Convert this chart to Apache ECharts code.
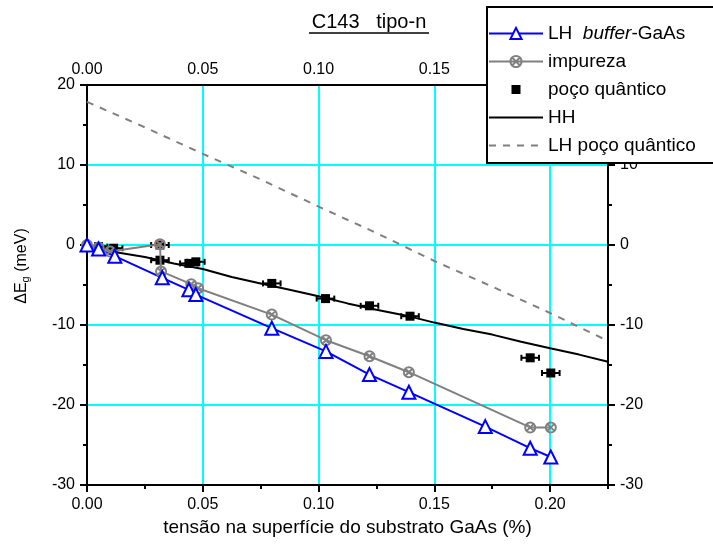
<!DOCTYPE html>
<html>
<head>
<meta charset="utf-8">
<script src="https://cdn.jsdelivr.net/npm/echarts@6/dist/echarts.min.js"></script>
<style>
html, body { margin: 0; padding: 0; background: #fff; }
#chart { width: 713px; height: 550px; }
</style>
</head>
<body>
<div id="chart"></div>
<script>
// C143 tipo-n : deslocamento do gap vs tensão

const FONT = '"Liberation Sans", Arial, sans-serif';

// LH buffer-GaAs (triângulos azuis)
const lhBuffer = [
    [0, 0], [0.005, -0.5], [0.012, -1.4], [0.0325, -4.1], [0.044, -5.6], [0.047, -6.2],
    [0.0798, -10.4], [0.1032, -13.3], [0.122, -16.2], [0.139, -18.4],
    [0.172, -22.7], [0.1914, -25.4], [0.2003, -26.5]
];

// impureza (círculos cinza com X)
const impureza = [
    [0, 0], [0.005, -0.3], [0.01, -0.8], [0.0315, 0.1], [0.032, -3.3], [0.045, -4.9], [0.048, -5.4],
    [0.0798, -8.7], [0.1032, -11.9], [0.122, -13.9], [0.139, -15.9],
    [0.1914, -22.8], [0.2003, -22.8]
];

// poço quântico (quadrados pretos, com barra de erro horizontal)
const poco = [
    [0.005, -0.2], [0.0115, -0.4], [0.0315, 0.0], [0.0315, -1.9], [0.044, -2.3], [0.047, -2.1],
    [0.0798, -4.8], [0.103, -6.7], [0.122, -7.6], [0.1395, -8.9],
    [0.1914, -14.1], [0.2003, -16.0]
];
const pocoErr = 0.0038;

// HH (linha preta contínua)
const hh = [
    [0, 0], [0.0125, -0.9], [0.025, -1.5], [0.0375, -2.3], [0.05, -3.0], [0.0625, -4.0],
    [0.075, -4.8], [0.0875, -5.6], [0.1, -6.4], [0.1125, -7.3], [0.125, -8.1],
    [0.1375, -8.8], [0.15, -9.7], [0.1625, -10.5], [0.175, -11.2], [0.1875, -12.1],
    [0.2, -12.9], [0.2125, -13.7], [0.225, -14.6]
];

// LH poço quântico (linha tracejada cinza)
const lhPoco = [
    [0, 17.9], [0.025, 14.7], [0.05, 11.4], [0.075, 8.2], [0.1, 4.8], [0.125, 1.5],
    [0.15, -2.0], [0.175, -5.2], [0.2, -8.5], [0.225, -12.0]
];

const xMin = 0, xMax = 0.225, xStep = 0.05;
const yMin = -30, yMax = 20, yStep = 10;

const axisLineStyle = { color: '#000', width: 2 };
const labelStyle = { color: '#000', fontSize: 16, fontFamily: FONT };

const xCircle = 'path://M10,0 A10,10 0 1,1 -10,0 A10,10 0 1,1 10,0 Z M-7,-7 L7,7 M-7,7 L7,-7';

const chart = echarts.init(document.getElementById('chart'));

const option = {
    animation: false,
    backgroundColor: '#fff',
    grid: { left: 87, right: 105, top: 85, bottom: 65 },
    legend: {
        orient: 'vertical',
        left: 487,
        top: 7,
        z: 6,
        itemWidth: 54,
        itemHeight: 14,
        itemGap: 9,
        padding: [17, 10, 13, 1],
        data: [
            'LH buffer-GaAs',
            'impureza',
            { name: 'poço quântico', icon: 'path://M0,0 M14,14 M2.5,2.5 h9 v9 h-9 z' },
            { name: 'HH', itemStyle: { opacity: 0 } },
            { name: 'LH poço quântico', itemStyle: { opacity: 0 } }
        ],
        formatter: function (name) {
            if (name === 'LH buffer-GaAs') return '{n|LH  }{i|buffer}{n|-GaAs}';
            return name;
        },
        textStyle: {
            color: '#000', fontSize: 19, fontFamily: FONT, lineHeight: 14,
            rich: {
                n: { color: '#000', fontSize: 19, fontFamily: FONT, lineHeight: 14 },
                i: { color: '#000', fontSize: 19, fontFamily: FONT, lineHeight: 14, fontStyle: 'italic' }
            }
        }
    },
    graphic: [
        {
            // caixa da legenda (passa da borda direita)
            type: 'rect', z: 5,
            shape: { x: 487, y: 7, width: 260, height: 156 },
            style: { fill: '#fff', stroke: '#000', lineWidth: 2 }
        },
        {
            type: 'text', x: 369, y: 12, z: 10,
            style: { text: 'C143   tipo-n', fill: '#000', font: '20px ' + FONT, align: 'center', verticalAlign: 'top' }
        },
        {
            type: 'line', z: 10,
            shape: { x1: 309, y1: 33, x2: 429, y2: 33 },
            style: { stroke: '#000', lineWidth: 1.5 }
        },
        {
            type: 'text', x: 22, y: 266, rotation: Math.PI / 2, z: 10,
            style: {
                text: '{a|ΔE}{s|g}{a| (meV)}',
                align: 'center', verticalAlign: 'middle',
                rich: {
                    a: { fill: '#000', fontSize: 16, fontFamily: FONT },
                    s: { fill: '#000', fontSize: 11, fontFamily: FONT, padding: [8, 0, 0, 0] }
                }
            }
        }
    ],
    xAxis: [
        {
            type: 'value', position: 'bottom', min: xMin, max: xMax, interval: xStep,
            name: 'tensão na superfície do substrato GaAs (%)',
            nameLocation: 'middle', nameGap: 29,
            nameTextStyle: { color: '#000', fontSize: 19, fontFamily: FONT },
            axisLine: { onZero: false, lineStyle: axisLineStyle },
            axisTick: { length: 7, lineStyle: axisLineStyle },
            axisLabel: Object.assign({ margin: 12, showMaxLabel: false, formatter: v => v.toFixed(2) }, labelStyle),
            splitLine: { show: true, lineStyle: { color: '#00ffff', width: 2 } }
        },
        {
            type: 'value', position: 'top', min: xMin, max: xMax, interval: xStep,
            axisLine: { onZero: false, lineStyle: axisLineStyle },
            axisTick: { show: false },
            axisLabel: Object.assign({ margin: 7, showMaxLabel: false, formatter: v => v.toFixed(2) }, labelStyle),
            splitLine: { show: false }
        },
        {
            // ticks menores
            type: 'value', position: 'bottom', min: xMin, max: xMax, interval: xStep / 2,
            axisLine: { show: false, onZero: false },
            axisTick: { length: 4, lineStyle: axisLineStyle },
            axisLabel: { show: false },
            splitLine: { show: false }
        }
    ],
    yAxis: [
        {
            type: 'value', position: 'left', min: yMin, max: yMax, interval: yStep,
            axisLine: { onZero: false, lineStyle: axisLineStyle },
            axisTick: { length: 7, lineStyle: axisLineStyle },
            minorTick: { show: true, splitNumber: 2, length: 4, lineStyle: axisLineStyle },
            axisLabel: Object.assign({ margin: 12 }, labelStyle),
            splitLine: { show: true, lineStyle: { color: '#00ffff', width: 2 } }
        },
        {
            type: 'value', position: 'right', min: yMin, max: yMax, interval: yStep,
            axisLine: { onZero: false, lineStyle: axisLineStyle },
            axisTick: { length: 7, lineStyle: axisLineStyle },
            minorTick: { show: true, splitNumber: 2, length: 4, lineStyle: axisLineStyle },
            axisLabel: Object.assign({ margin: 12 }, labelStyle),
            splitLine: { show: false }
        }
    ],
    series: [
        {
            name: 'HH', type: 'line', data: hh, symbol: 'none',
            lineStyle: { color: '#000', width: 2 },
            itemStyle: { color: '#000' }
        },
        {
            name: 'LH poço quântico', type: 'line', data: lhPoco, symbol: 'none',
            lineStyle: { color: '#808080', width: 2, type: [7, 7] },
            itemStyle: { color: '#808080' }
        },
        {
            name: 'erro', type: 'custom', data: poco, silent: true,
            encode: { x: 0, y: 1 },
            renderItem: function (params, api) {
                const x = api.value(0), y = api.value(1);
                const a = api.coord([x - pocoErr, y]);
                const b = api.coord([x + pocoErr, y]);
                const st = { stroke: '#000', lineWidth: 2 };
                return {
                    type: 'group',
                    children: [
                        { type: 'line', shape: { x1: a[0], y1: a[1], x2: b[0], y2: b[1] }, style: st },
                        { type: 'line', shape: { x1: a[0], y1: a[1] - 3, x2: a[0], y2: a[1] + 3 }, style: st },
                        { type: 'line', shape: { x1: b[0], y1: b[1] - 3, x2: b[0], y2: b[1] + 3 }, style: st }
                    ]
                };
            }
        },
        {
            name: 'poço quântico', type: 'scatter', data: poco,
            symbol: 'rect', symbolSize: 9,
            itemStyle: { color: '#000', opacity: 1 }
        },
        {
            name: 'impureza', type: 'line', data: impureza,
            symbol: xCircle, symbolSize: 10,
            lineStyle: { color: '#808080', width: 2 },
            itemStyle: { color: 'rgba(255,255,255,0)', borderColor: '#808080', borderWidth: 2 }
        },
        {
            name: 'LH buffer-GaAs', type: 'line', data: lhBuffer,
            symbol: 'emptyTriangle', symbolSize: 13,
            lineStyle: { color: '#0000ff', width: 2 },
            itemStyle: { color: '#0000ff', borderWidth: 2 }
        }
    ]
};

chart.setOption(option);
</script>
</body>
</html>
